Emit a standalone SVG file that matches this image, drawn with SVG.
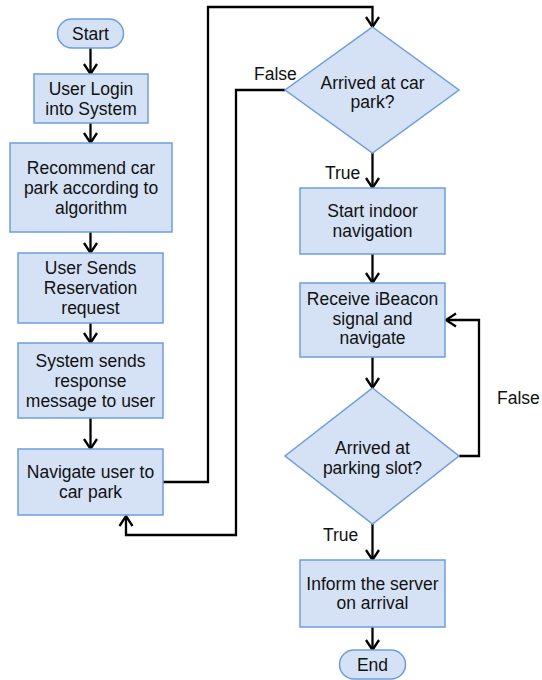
<svg xmlns="http://www.w3.org/2000/svg" width="542" height="680" viewBox="0 0 542 680">
  <defs>
    <style>
      .box { fill: #d5e2f5; stroke: #6d9de0; stroke-width: 1.5; }
      .txt { font-family: "Liberation Sans", Arial, sans-serif; font-size: 17.5px; fill: #111; text-anchor: middle; }
      .lbl { font-family: "Liberation Sans", Arial, sans-serif; font-size: 17.5px; fill: #111; }
      .conn { fill: none; stroke: #000; stroke-width: 2.3; marker-end: url(#arrow); }
    </style>
    <marker id="arrow" markerUnits="userSpaceOnUse" markerWidth="16" markerHeight="18" refX="11" refY="8" orient="auto">
      <path d="M1,1.5 L11,8 L1,14.5" fill="none" stroke="#000" stroke-width="2.3"/>
    </marker>
  </defs>
  <rect width="542" height="680" fill="#fff"/>

  <g id="connectors">
    <path class="conn" d="M90.5,48 V74"/>
    <path class="conn" d="M90.5,123 V143"/>
    <path class="conn" d="M90.5,232 V253"/>
    <path class="conn" d="M90.5,323 V343"/>
    <path class="conn" d="M90.5,418 V449"/>
    <path class="conn" d="M163,482 H208 V7 H372.5 V27"/>
    <path class="conn" d="M285,90 H236 V535 H126 V516"/>
    <path class="conn" d="M372.5,153 V188"/>
    <path class="conn" d="M372.5,254 V283"/>
    <path class="conn" d="M372.5,357 V388"/>
    <path class="conn" d="M459,456 H479 V320 H446"/>
    <path class="conn" d="M372.5,524 V560"/>
    <path class="conn" d="M372.5,627 V650"/>
    <text class="lbl" x="254" y="80">False</text>
    <text class="lbl" x="325" y="179">True</text>
    <text class="lbl" x="497" y="404">False</text>
    <text class="lbl" x="323" y="541">True</text>
  </g>

  <g id="start">
    <rect class="box" x="57.5" y="19" width="66" height="29" rx="14.5"/>
    <text class="txt" x="90.5" y="39.5">Start</text>
  </g>
  <g id="login">
    <rect class="box" x="34" y="74" width="114" height="49"/>
    <text class="txt" x="91" y="94.5">User Login</text>
    <text class="txt" x="91" y="114.5">into System</text>
  </g>
  <g id="recommend">
    <rect class="box" x="10" y="143" width="162" height="89"/>
    <text class="txt" x="91" y="173.5">Recommend car</text>
    <text class="txt" x="91" y="193.5">park according to</text>
    <text class="txt" x="91" y="213.5">algorithm</text>
  </g>
  <g id="reservation">
    <rect class="box" x="18" y="253" width="145" height="70"/>
    <text class="txt" x="90.5" y="274">User Sends</text>
    <text class="txt" x="90.5" y="294">Reservation</text>
    <text class="txt" x="90.5" y="314">request</text>
  </g>
  <g id="response">
    <rect class="box" x="18" y="343" width="145" height="75"/>
    <text class="txt" x="90.5" y="366.5">System sends</text>
    <text class="txt" x="90.5" y="386.5">response</text>
    <text class="txt" x="90.5" y="406.5">message to user</text>
  </g>
  <g id="navigate">
    <rect class="box" x="18" y="449" width="145" height="66"/>
    <text class="txt" x="90.5" y="478">Navigate user to</text>
    <text class="txt" x="90.5" y="498">car park</text>
  </g>
  <g id="arrived-car-park">
    <polygon class="box" points="372.5,27 459,90 372.5,153 285,90"/>
    <text class="txt" x="372.5" y="89">Arrived at car</text>
    <text class="txt" x="372.5" y="108">park?</text>
  </g>
  <g id="indoor">
    <rect class="box" x="300" y="188" width="145" height="66"/>
    <text class="txt" x="372.5" y="217">Start indoor</text>
    <text class="txt" x="372.5" y="237">navigation</text>
  </g>
  <g id="ibeacon">
    <rect class="box" x="300" y="283" width="145" height="74"/>
    <text class="txt" x="372.5" y="305">Receive iBeacon</text>
    <text class="txt" x="372.5" y="324.5">signal and</text>
    <text class="txt" x="372.5" y="344">navigate</text>
  </g>
  <g id="arrived-slot">
    <polygon class="box" points="372.5,388 459,456 372.5,524 285,456"/>
    <text class="txt" x="372.5" y="454">Arrived at</text>
    <text class="txt" x="372.5" y="474">parking slot?</text>
  </g>
  <g id="inform">
    <rect class="box" x="300" y="560" width="145" height="67"/>
    <text class="txt" x="372.5" y="589.5">Inform the server</text>
    <text class="txt" x="372.5" y="609">on arrival</text>
  </g>
  <g id="end">
    <rect class="box" x="339.5" y="650" width="66" height="29" rx="14.5"/>
    <text class="txt" x="372.5" y="670.5">End</text>
  </g>
</svg>
